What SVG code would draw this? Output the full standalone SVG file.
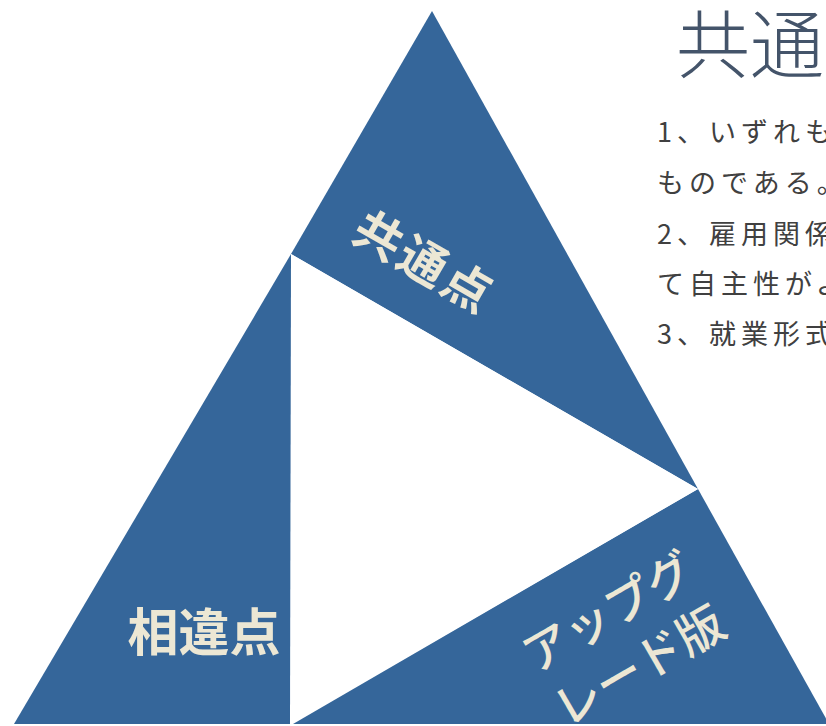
<svg xmlns="http://www.w3.org/2000/svg" width="826" height="726" viewBox="0 0 826 726">
<style>
.blue{fill:#35669A}
.lbl{fill:#ECE7D4;font-family:"Noto Sans CJK JP","Noto Sans",sans-serif;text-anchor:middle;dominant-baseline:central}
.body{fill:#404040;font-family:"Noto Sans CJK JP","Noto Sans",sans-serif;font-size:27px;letter-spacing:5px}
.title{fill:#44546A;font-family:"Noto Sans CJK JP","Noto Sans",sans-serif;font-size:74px;font-weight:300}
</style>
<rect width="826" height="726" fill="#FFFFFF"/>
<g id="top-triangle">
<polygon class="blue" points="432,11 291,254 698,489"/>
<text class="lbl" x="426" y="259" font-size="48" font-weight="bold" letter-spacing="3" transform="rotate(30 426 259)">共通点</text>
</g>
<g id="left-triangle">
<polygon class="blue" points="291,254 14,724 290,724"/>
<text class="lbl" x="204" y="629" font-size="51" font-weight="bold">相違点</text>
</g>
<g id="right-triangle">
<polygon class="blue" points="698,489 829,724 293,724"/>
<g transform="rotate(-30 622 636)">
<text class="lbl" x="622" y="605" font-size="47" font-weight="500">アップグ</text>
<text class="lbl" x="622" y="667" font-size="47" font-weight="500">レード版</text>
</g>
</g>
<g id="center-triangle">
<polygon fill="#FFFFFF" points="291,254 698,489 291,724"/>
</g>
<g id="text-block">
<text class="title" x="676" y="72">共通</text>
<text class="body" x="657" y="142">1、いずれも</text>
<text class="body" x="657" y="193">ものである。</text>
<text class="body" x="657" y="244">2、雇用関係</text>
<text class="body" x="657" y="294">て自主性がよ</text>
<text class="body" x="657" y="344">3、就業形式</text>
</g>
<g id="connectors"></g>
</svg>
